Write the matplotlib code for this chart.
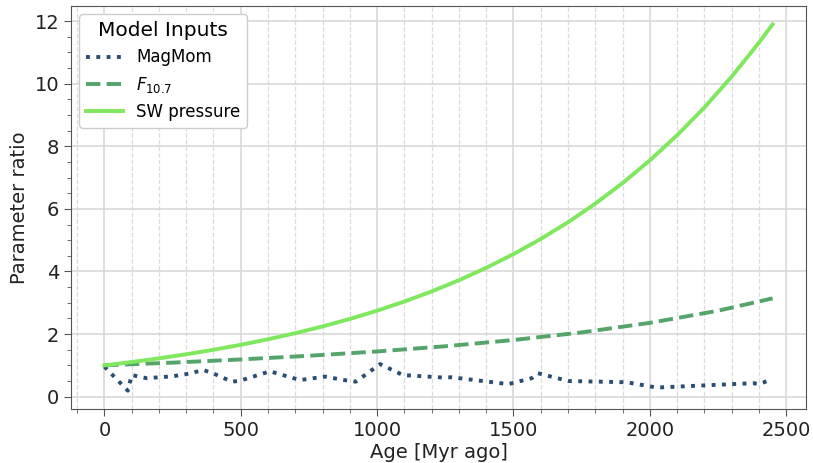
import matplotlib
matplotlib.use("Agg")
import matplotlib.pyplot as plt
from matplotlib.ticker import MultipleLocator

# MagMom series (age, ratio)
mag_age = [0, 86, 100, 155, 250, 300, 363, 400, 467, 494, 607, 717, 809, 898, 922,
           1011, 1094, 1243, 1273, 1481, 1567, 1589, 1701, 1915, 2025, 2200, 2379, 2400, 2440]
mag_val = [0.96, 0.19, 0.69, 0.59, 0.65, 0.72, 0.85, 0.74, 0.48, 0.50, 0.81, 0.53, 0.64, 0.50, 0.48,
           1.04, 0.69, 0.61, 0.62, 0.40, 0.59, 0.75, 0.50, 0.46, 0.29, 0.36, 0.43, 0.40, 0.53]

# F10.7 series
f107_age = [0, 250, 500, 750, 1000, 1250, 1500, 1750, 2000, 2250, 2450]
f107_val = [1.00, 1.087, 1.189, 1.306, 1.444, 1.610, 1.810, 2.053, 2.358, 2.746, 3.141]

# Solar wind pressure series
sw_age = [0, 100, 200, 300, 400, 500, 600, 700, 800, 900, 1000, 1100, 1200, 1300,
          1400, 1500, 1600, 1700, 1800, 1900, 2000, 2100, 2200, 2300, 2400, 2450]
sw_val = [1.00, 1.106, 1.224, 1.354, 1.498, 1.657, 1.834, 2.028, 2.244, 2.483, 2.748,
          3.040, 3.363, 3.721, 4.117, 4.555, 5.040, 5.576, 6.169, 6.826, 7.552, 8.355,
          9.244, 10.228, 11.316, 11.90]

fig = plt.figure(figsize=(8.13, 4.63), dpi=100)
ax = fig.add_axes([0.0873, 0.1166, 0.9041, 0.8704])

ax.plot(mag_age, mag_val, linestyle=':', color='#2a4d73', linewidth=2.8, label='MagMom')
ax.plot(f107_age, f107_val, linestyle='--', color='#55a46a', linewidth=2.8, label=r'$F_{10.7}$')
ax.plot(sw_age, sw_val, linestyle='-', color='#80e85e', linewidth=2.8, label='SW pressure')

ax.xaxis.set_major_locator(MultipleLocator(500))
ax.xaxis.set_minor_locator(MultipleLocator(100))
ax.yaxis.set_major_locator(MultipleLocator(2))
ax.yaxis.set_minor_locator(MultipleLocator(0.5))

ax.grid(which='major', color='#d6d6d6', linestyle='-', linewidth=1.1)
ax.grid(which='minor', axis='x', color='#dcdcdc', linestyle='--', linewidth=0.9)
ax.set_axisbelow(True)

for s in ax.spines.values():
    s.set_color('#555555')
ax.tick_params(axis='both', which='major', labelsize=14, length=5, color='#555555', labelcolor='#222222')
ax.tick_params(axis='both', which='minor', length=3, color='#555555')

ax.set_xlabel('Age [Myr ago]', fontsize=14, color='#222222', labelpad=2)
ax.set_ylabel('Parameter ratio', fontsize=14, color='#222222')

leg = ax.legend(title='Model Inputs', loc='upper left', fontsize=12, title_fontsize=14.5,
                framealpha=1.0, edgecolor='#cccccc', handlelength=2.2)

fig.savefig('out.png', dpi=100)
